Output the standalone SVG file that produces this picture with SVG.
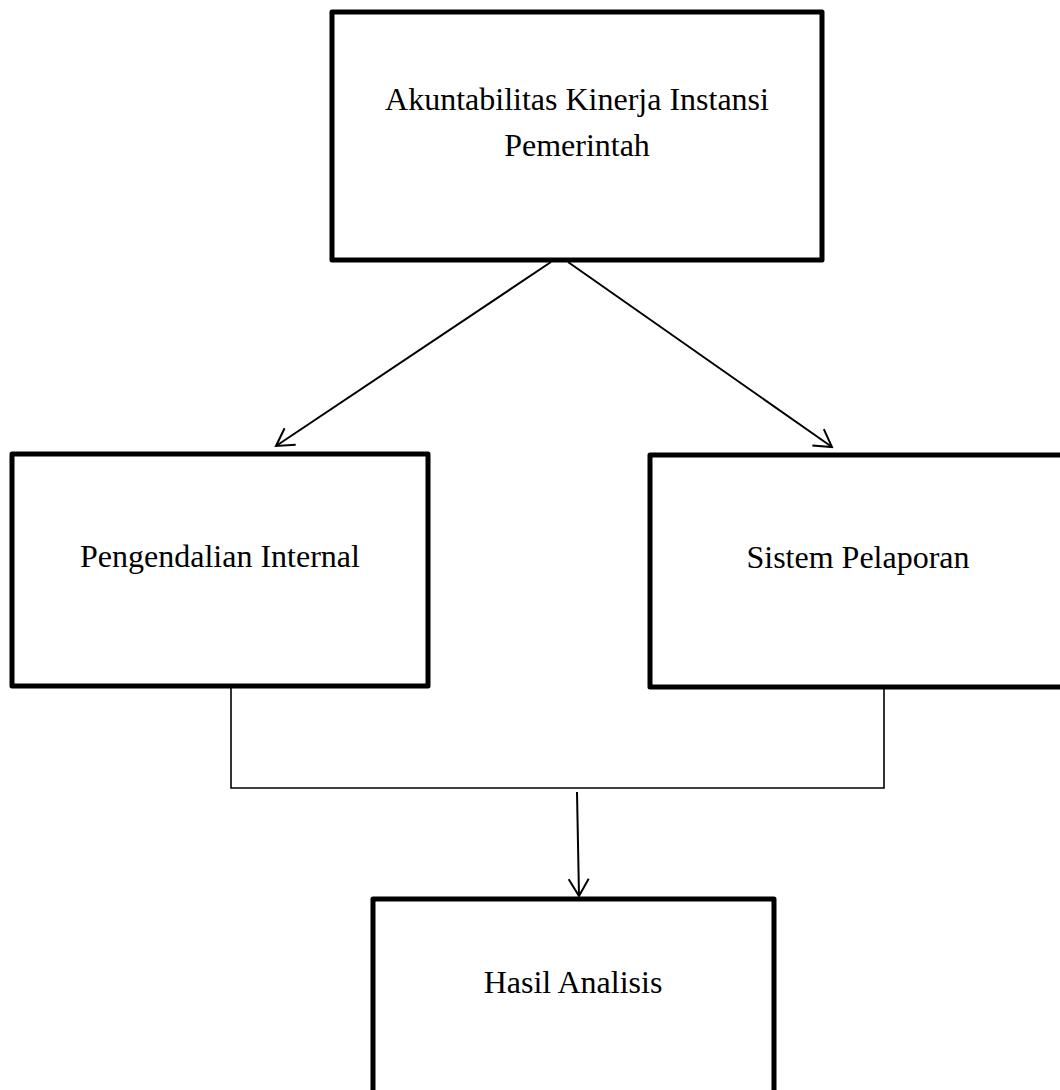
<svg xmlns="http://www.w3.org/2000/svg" width="1060" height="1090" viewBox="0 0 1060 1090">
<style>
.box{fill:#fff;stroke:#000;stroke-width:5;stroke-linejoin:round}
.lbl{font-family:"Liberation Serif","Times New Roman",serif;font-size:32px;fill:#000;text-anchor:middle}
.arr{fill:none;stroke:#000;stroke-width:2}
.thin{fill:none;stroke:#000;stroke-width:1.6}
</style>
<defs>
<marker id="ah" viewBox="0 0 20 22" markerWidth="20" markerHeight="22" refX="18" refY="11" orient="auto" markerUnits="userSpaceOnUse">
<path d="M1,1 L18,11 L1,21" fill="none" stroke="#000" stroke-width="2"/>
</marker>
</defs>
<rect width="1060" height="1090" fill="#fff"/>
<g id="node-akuntabilitas">
<rect class="box" x="332" y="12" width="490" height="248"/>
<text class="lbl" x="577" y="110">Akuntabilitas Kinerja Instansi</text>
<text class="lbl" x="577" y="156">Pemerintah</text>
</g>
<g id="node-pengendalian">
<rect class="box" x="12" y="454" width="416" height="232"/>
<text class="lbl" x="220" y="567">Pengendalian Internal</text>
</g>
<g id="node-sistem">
<rect class="box" x="650" y="455" width="415" height="232"/>
<text class="lbl" x="858" y="568">Sistem Pelaporan</text>
</g>
<g id="node-hasil">
<rect class="box" x="373" y="899" width="401" height="200"/>
<text class="lbl" x="573" y="993">Hasil Analisis</text>
</g>
<g id="connectors">
<line class="arr" x1="551" y1="262" x2="276" y2="446" marker-end="url(#ah)"/>
<line class="arr" x1="568" y1="262" x2="832" y2="447" marker-end="url(#ah)"/>
<polyline class="thin" points="231,688 231,788 884,788 884,689"/>
<line class="arr" x1="577" y1="792" x2="579" y2="896" marker-end="url(#ah)"/>
</g>
</svg>
